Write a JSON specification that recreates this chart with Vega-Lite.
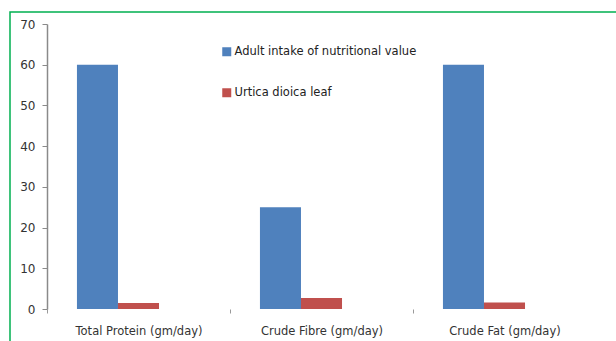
{
  "$schema": "https://vega.github.io/schema/vega-lite/v6.json",
  "autosize": "none",
  "padding": {"left": 10, "top": 12, "right": 0, "bottom": 0},
  "width": 620,
  "height": 345,
  "background": "white",
  "config": {
    "view": {"stroke": "#00B050", "strokeWidth": 1.5},
    "font": "DejaVu Sans",
    "axis": {"labelFont": "DejaVu Sans", "labelFontSize": 11.5, "labelColor": "#333333", "title": null}
  },
  "data": {
    "values": [
      {"category": "Total Protein (gm/day)", "series": "Adult intake of nutritional value", "value": 60},
      {"category": "Total Protein (gm/day)", "series": "Urtica dioica leaf", "value": 1.5},
      {"category": "Crude Fibre (gm/day)", "series": "Adult intake of nutritional value", "value": 25},
      {"category": "Crude Fibre (gm/day)", "series": "Urtica dioica leaf", "value": 2.7},
      {"category": "Crude Fat (gm/day)", "series": "Adult intake of nutritional value", "value": 60},
      {"category": "Crude Fat (gm/day)", "series": "Urtica dioica leaf", "value": 1.6}
    ]
  },
  "mark": {"type": "bar"},
  "encoding": {
    "x": {
      "field": "category",
      "type": "nominal",
      "sort": null,
      "scale": {"range": [37, 586], "paddingInner": 0, "paddingOuter": 0},
      "axis": {
        "orient": "bottom", "offset": -48, "domain": false, "labelAngle": 0, "tickBand": "extent", "tickSize": 4, "tickColor": "#9a9a9a", "labelPadding": 12,
        "tickOpacity": {"condition": {"test": "datum.value === 'Crude Fat (gm/day)'", "value": 0}, "value": 1}
      }
    },
    "xOffset": {
      "field": "series",
      "scale": {"domain": ["Adult intake of nutritional value", "Urtica dioica leaf", "blank"], "paddingInner": 0, "paddingOuter": 0.73}
    },
    "y": {
      "field": "value",
      "type": "quantitative",
      "scale": {"domain": [0, 70], "range": [297, 12], "nice": false},
      "axis": {"orient": "left", "offset": -37, "values": [0, 10, 20, 30, 40, 50, 60, 70], "grid": false, "domainColor": "#8a8a8a", "domainWidth": 1.5, "tickColor": "#8a8a8a", "tickSize": 5, "labelPadding": 7, "labelFontSize": 12}
    },
    "color": {
      "field": "series",
      "type": "nominal",
      "scale": {"domain": ["Adult intake of nutritional value", "Urtica dioica leaf"], "range": ["#4F81BD", "#C0504D"]},
      "legend": {
        "title": null,
        "orient": "none",
        "legendX": 211,
        "legendY": 34,
        "symbolType": "square",
        "symbolSize": 81,
        "symbolStrokeWidth": 0,
        "symbolOpacity": 1,
        "labelFontSize": 11.5,
        "labelFont": "DejaVu Sans",
        "labelColor": "#222222",
        "labelOffset": 2,
        "labelLimit": 400,
        "rowPadding": 28
      }
    }
  }
}
